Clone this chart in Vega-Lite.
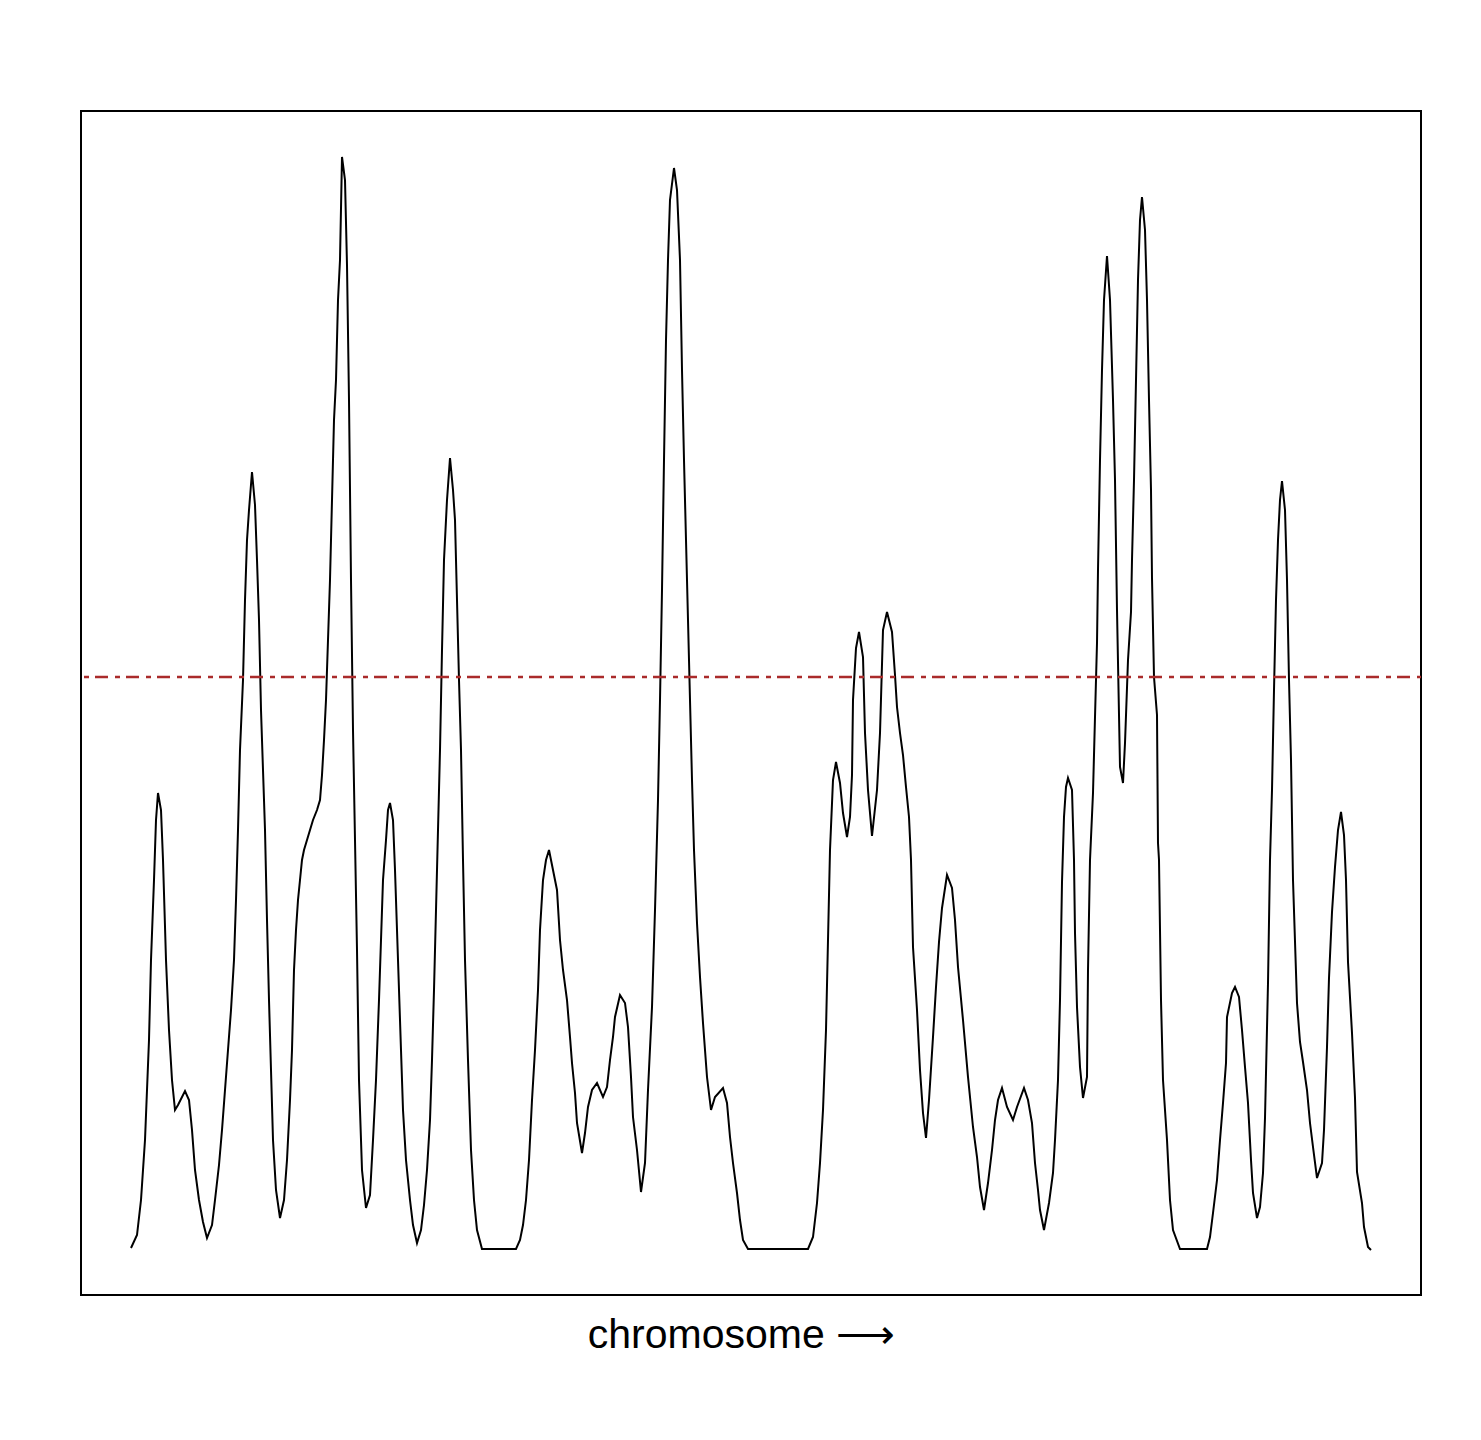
{
  "$schema": "https://vega.github.io/schema/vega-lite/v6.json",
  "width": 1340,
  "height": 1184,
  "autosize": {"type": "none"},
  "padding": {"left": 81, "top": 111, "right": 60, "bottom": 145},
  "background": "white",
  "config": {"view": {"stroke": "black", "strokeWidth": 2}},
  "datasets": {
    "lod": [
      {"pos":50,"lod":0.47},{"pos":56,"lod":0.60},{"pos":60,"lod":0.95},{"pos":64,"lod":1.55},{"pos":68,"lod":2.55},{"pos":70,"lod":3.35},{"pos":73,"lod":4.15},{"pos":75,"lod":4.75},{"pos":77,"lod":5.02},{"pos":80,"lod":4.85},
      {"pos":82,"lod":4.35},{"pos":85,"lod":3.35},{"pos":88,"lod":2.65},{"pos":91,"lod":2.15},{"pos":94,"lod":1.85},{"pos":97,"lod":1.90},{"pos":104,"lod":2.04},{"pos":108,"lod":1.95},{"pos":111,"lod":1.65},{"pos":114,"lod":1.25},
      {"pos":118,"lod":0.95},{"pos":122,"lod":0.73},{"pos":126,"lod":0.57},{"pos":131,"lod":0.70},{"pos":134,"lod":0.95},{"pos":138,"lod":1.30},{"pos":141,"lod":1.65},{"pos":144,"lod":2.05},{"pos":147,"lod":2.45},{"pos":150,"lod":2.85},
      {"pos":153,"lod":3.35},{"pos":155,"lod":3.95},{"pos":157,"lod":4.65},{"pos":159,"lod":5.45},{"pos":162,"lod":6.15},{"pos":164,"lod":6.95},{"pos":166,"lod":7.55},{"pos":168,"lod":7.85},{"pos":171,"lod":8.23},{"pos":174,"lod":7.90},
      {"pos":176,"lod":7.35},{"pos":178,"lod":6.75},{"pos":180,"lod":5.85},{"pos":182,"lod":5.25},{"pos":184,"lod":4.65},{"pos":186,"lod":3.75},{"pos":188,"lod":2.95},{"pos":190,"lod":2.25},{"pos":192,"lod":1.55},{"pos":195,"lod":1.05},
      {"pos":199,"lod":0.77},{"pos":203,"lod":0.95},{"pos":206,"lod":1.35},{"pos":209,"lod":1.95},{"pos":211,"lod":2.45},{"pos":213,"lod":3.25},{"pos":215,"lod":3.65},{"pos":217,"lod":3.95},{"pos":219,"lod":4.15},{"pos":221,"lod":4.35},
      {"pos":223,"lod":4.45},{"pos":226,"lod":4.55},{"pos":229,"lod":4.65},{"pos":232,"lod":4.75},{"pos":236,"lod":4.85},{"pos":239,"lod":4.95},{"pos":241,"lod":5.20},{"pos":243,"lod":5.55},{"pos":245,"lod":5.95},{"pos":247,"lod":6.55},
      {"pos":249,"lod":7.15},{"pos":251,"lod":7.95},{"pos":253,"lod":8.75},{"pos":255,"lod":9.15},{"pos":257,"lod":9.95},{"pos":259,"lod":10.35},{"pos":261,"lod":11.38},{"pos":264,"lod":11.15},{"pos":266,"lod":10.30},{"pos":268,"lod":8.95},
      {"pos":270,"lod":7.15},{"pos":272,"lod":5.65},{"pos":274,"lod":4.55},{"pos":276,"lod":3.45},{"pos":278,"lod":2.15},{"pos":281,"lod":1.25},{"pos":285,"lod":0.87},{"pos":289,"lod":1.00},{"pos":292,"lod":1.55},{"pos":295,"lod":2.15},
      {"pos":298,"lod":2.95},{"pos":300,"lod":3.55},{"pos":302,"lod":4.15},{"pos":305,"lod":4.55},{"pos":307,"lod":4.85},{"pos":309,"lod":4.92},{"pos":312,"lod":4.75},{"pos":314,"lod":4.25},{"pos":316,"lod":3.65},{"pos":318,"lod":3.05},
      {"pos":320,"lod":2.45},{"pos":322,"lod":1.85},{"pos":325,"lod":1.35},{"pos":329,"lod":0.95},{"pos":332,"lod":0.70},{"pos":336,"lod":0.52},{"pos":340,"lod":0.65},{"pos":343,"lod":0.90},{"pos":346,"lod":1.25},{"pos":349,"lod":1.75},
      {"pos":351,"lod":2.35},{"pos":353,"lod":3.05},{"pos":355,"lod":3.85},{"pos":357,"lod":4.65},{"pos":359,"lod":5.45},{"pos":361,"lod":6.45},{"pos":363,"lod":7.35},{"pos":366,"lod":7.95},{"pos":369,"lod":8.37},{"pos":372,"lod":8.05},
      {"pos":374,"lod":7.75},{"pos":376,"lod":6.95},{"pos":378,"lod":6.15},{"pos":380,"lod":5.45},{"pos":382,"lod":4.35},{"pos":384,"lod":3.35},{"pos":387,"lod":2.35},{"pos":390,"lod":1.45},{"pos":393,"lod":0.95},{"pos":396,"lod":0.65},
      {"pos":401,"lod":0.46},{"pos":435,"lod":0.46},{"pos":439,"lod":0.55},{"pos":442,"lod":0.70},{"pos":445,"lod":0.95},{"pos":448,"lod":1.35},{"pos":451,"lod":1.95},{"pos":454,"lod":2.45},{"pos":457,"lod":3.05},{"pos":459,"lod":3.65},
      {"pos":462,"lod":4.15},{"pos":465,"lod":4.35},{"pos":468,"lod":4.45},{"pos":472,"lod":4.25},{"pos":476,"lod":4.05},{"pos":479,"lod":3.55},{"pos":482,"lod":3.25},{"pos":486,"lod":2.95},{"pos":489,"lod":2.58},{"pos":491,"lod":2.32},
      {"pos":494,"lod":2.02},{"pos":496,"lod":1.72},{"pos":501,"lod":1.42},{"pos":504,"lod":1.62},{"pos":507,"lod":1.88},{"pos":511,"lod":2.05},{"pos":516,"lod":2.12},{"pos":522,"lod":1.98},{"pos":526,"lod":2.08},{"pos":529,"lod":2.35},
      {"pos":532,"lod":2.58},{"pos":534,"lod":2.78},{"pos":539,"lod":3.00},{"pos":544,"lod":2.92},{"pos":547,"lod":2.68},{"pos":550,"lod":2.18},{"pos":552,"lod":1.78},{"pos":556,"lod":1.45},{"pos":560,"lod":1.03},{"pos":564,"lod":1.32},
      {"pos":567,"lod":2.05},{"pos":571,"lod":2.88},{"pos":574,"lod":3.85},{"pos":577,"lod":4.95},{"pos":579,"lod":5.95},{"pos":581,"lod":7.05},{"pos":583,"lod":8.35},{"pos":585,"lod":9.55},{"pos":587,"lod":10.35},{"pos":589,"lod":10.95},
      {"pos":593,"lod":11.27},{"pos":596,"lod":11.05},{"pos":599,"lod":10.35},{"pos":601,"lod":9.25},{"pos":603,"lod":8.35},{"pos":605,"lod":7.55},{"pos":607,"lod":6.75},{"pos":609,"lod":5.95},{"pos":611,"lod":5.15},{"pos":613,"lod":4.45},
      {"pos":616,"lod":3.72},{"pos":619,"lod":3.18},{"pos":622,"lod":2.72},{"pos":626,"lod":2.18},{"pos":630,"lod":1.85},{"pos":634,"lod":1.98},{"pos":642,"lod":2.07},{"pos":646,"lod":1.92},{"pos":649,"lod":1.58},{"pos":652,"lod":1.32},
      {"pos":656,"lod":1.02},{"pos":659,"lod":0.75},{"pos":662,"lod":0.55},{"pos":667,"lod":0.46},{"pos":727,"lod":0.46},{"pos":732,"lod":0.58},{"pos":736,"lod":0.92},{"pos":739,"lod":1.32},{"pos":742,"lod":1.85},{"pos":745,"lod":2.65},
      {"pos":747,"lod":3.55},{"pos":749,"lod":4.45},{"pos":752,"lod":5.15},{"pos":755,"lod":5.33},{"pos":759,"lod":5.12},{"pos":762,"lod":4.82},{"pos":766,"lod":4.58},{"pos":769,"lod":4.78},{"pos":771,"lod":5.20},{"pos":772,"lod":5.95},
      {"pos":775,"lod":6.47},{"pos":778,"lod":6.63},{"pos":782,"lod":6.38},{"pos":784,"lod":5.62},{"pos":787,"lod":5.05},{"pos":791,"lod":4.59},{"pos":796,"lod":5.05},{"pos":799,"lod":5.62},{"pos":802,"lod":6.65},{"pos":806,"lod":6.83},
      {"pos":811,"lod":6.63},{"pos":814,"lod":6.20},{"pos":816,"lod":5.88},{"pos":819,"lod":5.62},{"pos":822,"lod":5.40},{"pos":825,"lod":5.08},{"pos":828,"lod":4.78},{"pos":830,"lod":4.35},{"pos":832,"lod":3.48},{"pos":836,"lod":2.85},
      {"pos":839,"lod":2.25},{"pos":842,"lod":1.82},{"pos":845,"lod":1.57},{"pos":848,"lod":1.95},{"pos":852,"lod":2.58},{"pos":855,"lod":3.08},{"pos":858,"lod":3.53},{"pos":861,"lod":3.87},{"pos":866,"lod":4.20},{"pos":871,"lod":4.07},
      {"pos":874,"lod":3.75},{"pos":877,"lod":3.28},{"pos":882,"lod":2.75},{"pos":887,"lod":2.18},{"pos":892,"lod":1.68},{"pos":896,"lod":1.38},{"pos":899,"lod":1.08},{"pos":903,"lod":0.85},{"pos":907,"lod":1.12},{"pos":911,"lod":1.45},
      {"pos":914,"lod":1.75},{"pos":917,"lod":1.95},{"pos":921,"lod":2.07},{"pos":926,"lod":1.88},{"pos":932,"lod":1.75},{"pos":936,"lod":1.88},{"pos":943,"lod":2.07},{"pos":947,"lod":1.95},{"pos":951,"lod":1.72},{"pos":954,"lod":1.32},
      {"pos":957,"lod":1.05},{"pos":959,"lod":0.85},{"pos":963,"lod":0.65},{"pos":968,"lod":0.92},{"pos":972,"lod":1.22},{"pos":974,"lod":1.55},{"pos":977,"lod":2.15},{"pos":979,"lod":2.95},{"pos":981,"lod":4.13},{"pos":983,"lod":4.78},
      {"pos":985,"lod":5.08},{"pos":987,"lod":5.17},{"pos":991,"lod":5.05},{"pos":993,"lod":4.35},{"pos":994,"lod":3.62},{"pos":996,"lod":2.88},{"pos":999,"lod":2.28},{"pos":1002,"lod":1.97},{"pos":1006,"lod":2.18},{"pos":1007,"lod":3.25},
      {"pos":1009,"lod":4.35},{"pos":1012,"lod":5.02},{"pos":1014,"lod":5.78},{"pos":1016,"lod":6.52},{"pos":1017,"lod":7.25},{"pos":1019,"lod":8.35},{"pos":1021,"lod":9.25},{"pos":1023,"lod":9.95},{"pos":1026,"lod":10.39},{"pos":1029,"lod":9.95},
      {"pos":1032,"lod":8.95},{"pos":1034,"lod":8.15},{"pos":1036,"lod":6.85},{"pos":1039,"lod":5.28},{"pos":1042,"lod":5.12},{"pos":1044,"lod":5.52},{"pos":1047,"lod":6.35},{"pos":1050,"lod":6.83},{"pos":1051,"lod":7.35},{"pos":1053,"lod":8.15},
      {"pos":1055,"lod":9.15},{"pos":1057,"lod":10.15},{"pos":1059,"lod":10.75},{"pos":1061,"lod":10.98},{"pos":1064,"lod":10.65},{"pos":1066,"lod":9.95},{"pos":1068,"lod":8.95},{"pos":1070,"lod":8.05},{"pos":1071,"lod":7.17},{"pos":1073,"lod":6.18},
      {"pos":1076,"lod":5.80},{"pos":1077,"lod":4.52},{"pos":1078,"lod":4.35},{"pos":1080,"lod":2.95},{"pos":1082,"lod":2.15},{"pos":1086,"lod":1.55},{"pos":1089,"lod":0.95},{"pos":1092,"lod":0.65},{"pos":1099,"lod":0.46},{"pos":1126,"lod":0.46},
      {"pos":1129,"lod":0.58},{"pos":1132,"lod":0.82},{"pos":1136,"lod":1.15},{"pos":1139,"lod":1.55},{"pos":1142,"lod":1.92},{"pos":1145,"lod":2.32},{"pos":1146,"lod":2.78},{"pos":1151,"lod":3.02},{"pos":1154,"lod":3.08},{"pos":1158,"lod":2.98},
      {"pos":1161,"lod":2.65},{"pos":1164,"lod":2.28},{"pos":1167,"lod":1.92},{"pos":1170,"lod":1.35},{"pos":1172,"lod":1.02},{"pos":1176,"lod":0.77},{"pos":1179,"lod":0.88},{"pos":1182,"lod":1.22},{"pos":1184,"lod":1.77},{"pos":1187,"lod":3.12},
      {"pos":1189,"lod":4.35},{"pos":1191,"lod":5.05},{"pos":1193,"lod":6.05},{"pos":1195,"lod":6.95},{"pos":1197,"lod":7.55},{"pos":1199,"lod":7.95},{"pos":1201,"lod":8.14},{"pos":1204,"lod":7.85},{"pos":1206,"lod":7.15},{"pos":1208,"lod":6.15},
      {"pos":1210,"lod":5.35},{"pos":1212,"lod":4.15},{"pos":1216,"lod":2.92},{"pos":1219,"lod":2.53},{"pos":1222,"lod":2.33},{"pos":1226,"lod":2.05},{"pos":1229,"lod":1.72},{"pos":1232,"lod":1.48},{"pos":1236,"lod":1.17},{"pos":1241,"lod":1.32},
      {"pos":1243,"lod":1.65},{"pos":1246,"lod":2.48},{"pos":1248,"lod":3.17},{"pos":1251,"lod":3.83},{"pos":1254,"lod":4.28},{"pos":1257,"lod":4.65},{"pos":1260,"lod":4.83},{"pos":1263,"lod":4.60},{"pos":1265,"lod":4.15},{"pos":1267,"lod":3.33},
      {"pos":1271,"lod":2.62},{"pos":1274,"lod":1.97},{"pos":1276,"lod":1.23},{"pos":1281,"lod":0.92},{"pos":1283,"lod":0.68},{"pos":1287,"lod":0.48},{"pos":1290,"lod":0.45}
    ],
    "threshold": [{"threshold": 6.18}]
  },
  "layer": [
    {
      "data": {"name": "lod"},
      "mark": {"type": "line", "color": "black", "strokeWidth": 2, "interpolate": "linear"},
      "encoding": {
        "x": {
          "field": "pos", "type": "quantitative",
          "scale": {"domain": [0, 1340], "nice": false, "zero": false},
          "axis": {
            "title": "chromosome ⟶", "titleFont": "Liberation Sans", "titleFontSize": 41,
            "titleFontWeight": "normal", "titleColor": "black", "titlePadding": 20,
            "titleX": 660, "titleAlign": "center",
            "labels": false, "ticks": false, "domain": false, "grid": false
          }
        },
        "y": {
          "field": "lod", "type": "quantitative",
          "scale": {"domain": [0, 11.84], "nice": false},
          "axis": null
        }
      }
    },
    {
      "data": {"name": "threshold"},
      "mark": {"type": "rule", "color": "#AA2B2B", "strokeWidth": 2.5, "strokeDash": [13, 6, 5, 7], "strokeDashOffset": 20},
      "encoding": {
        "y": {"field": "threshold", "type": "quantitative"}
      }
    }
  ]
}
